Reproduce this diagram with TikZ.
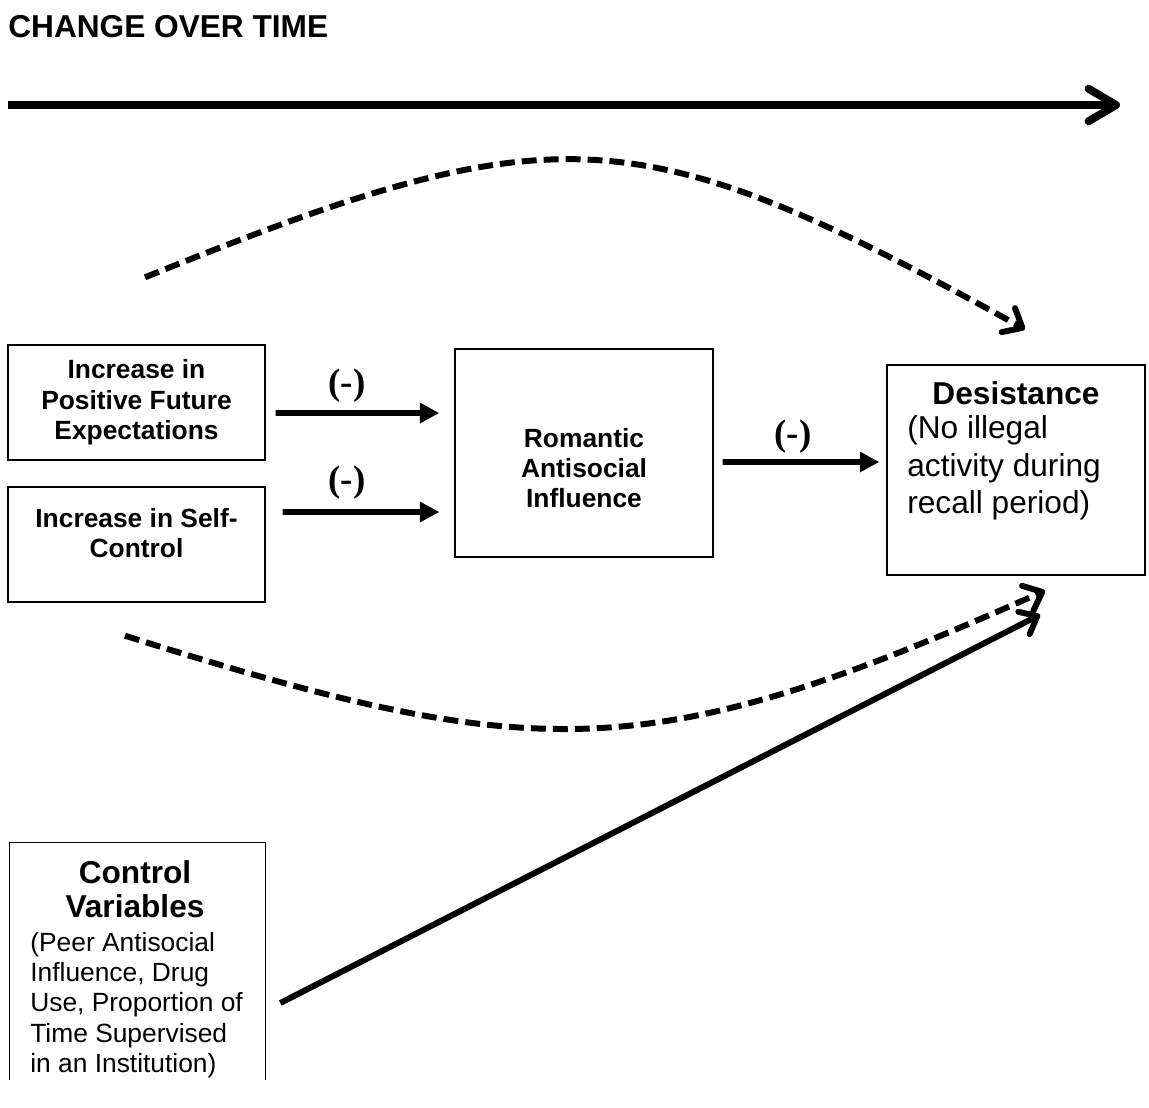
\documentclass[tikz,border=0pt]{standalone}
\usepackage{fontspec}
\setmainfont{Liberation Sans}
\newfontfamily\signfont{Liberation Serif}
\usetikzlibrary{arrows.meta}

\begin{document}
\begin{tikzpicture}[x=0.2mm, y=-0.2mm,
        box/.style={draw, line width=0.8pt, inner sep=0pt},
        boxtext/.style={align=center, inner sep=0pt, font=\fontsize{15}{17.3}\selectfont\bfseries},
        bigtext/.style={align=center, inner sep=0pt, font=\fontsize{18}{19.5}\selectfont\bfseries},
        note/.style={align=left, inner sep=0pt},
        sign/.style={inner sep=0pt, font=\signfont\bfseries\fontsize{21}{22}\selectfont},
        arr/.style={line width=3.2pt, -{Triangle[length=11pt,width=11pt]}},
        curved/.style={line width=3.4pt, dash pattern=on 8.5pt off 4pt,
            -{Straight Barb[length=3.2mm,width=5.5mm,round]}}]
    \useasboundingbox (0,0) rectangle (1149,1107);
    % title and time axis
    \node[anchor=base west, inner sep=0pt, font=\fontsize{18}{20}\selectfont\bfseries] (title) at (8,38) {CHANGE OVER TIME};
    \coordinate (tstart) at (8,105);
    \coordinate (tend) at (1120,105);
    \draw[line width=4.5pt, -{Straight Barb[length=5.5mm,width=6.5mm,round]}] (tstart) -- (tend);
    % boxes
    \node[box, minimum width=51.4mm, minimum height=23mm, boxtext] (A) at (136.5,402.5) {Increase in\\Positive Future\\Expectations};
    \node[box, minimum width=51.4mm, minimum height=23mm] (B) at (136.5,544.5) {};
    \node[boxtext] (Btext) at (136.5,533) {Increase in Self-\\Control};
    \node[box, minimum width=51.6mm, minimum height=41.6mm] (C) at (584,453) {};
    \node[boxtext] (Ctext) at (584,468) {Romantic\\Antisocial\\Influence};
    \node[box, minimum width=51.6mm, minimum height=42mm] (D) at (1016,470) {};
    \node[bigtext] (Dtitle) at (1016,393) {Desistance};
    \node[note, anchor=west, font=\fontsize{18}{21.3}\selectfont] (Dnote) at (907,468) {(No illegal\\activity during\\recall period)};
    \node[inner sep=0pt, minimum width=51mm, minimum height=47.4mm] (E) at (137.5,961.5) {};
    \draw[line width=0.8pt] (E.south west) -- (E.north west) -- (E.north east) -- (E.south east);
    \node[bigtext] (Etitle) at (135,889) {Control\\Variables};
    \node[note, anchor=west, font=\fontsize{15}{17.3}\selectfont] (Enote) at (30,1005) {(Peer Antisocial\\Influence, Drug\\Use, Proportion of\\Time Supervised\\in an Institution)};
    % paths
    \draw[arr] ([xshift=2mm,yshift=-2.1mm]A.east) -- ([xshift=-3mm,yshift=8mm]C.west);
    \draw[arr] ([xshift=3.4mm,yshift=6.5mm]B.east) -- ([xshift=-3mm,yshift=-11.8mm]C.west);
    \draw[arr] ([xshift=1.8mm,yshift=-1.8mm]C.east) -- ([xshift=-1.4mm,yshift=1.6mm]D.west);
    \node[sign] (s1) at (347,386) {(-)};
    \node[sign] (s2) at (347,483) {(-)};
    \node[sign] (s3) at (793,437) {(-)};
    \draw[line width=3.4pt, -{Straight Barb[length=3mm,width=5mm,round]}] ([xshift=3mm,yshift=-8.3mm]E.east) -- ([xshift=4.8mm,yshift=-7.8mm]D.south);
    \draw[curved] ([xshift=1.7mm,yshift=13.4mm]A.north) .. controls (558,111) and (635,114) .. ([xshift=1.8mm,yshift=7mm]D.north);
    \draw[curved] ([xshift=-2.3mm,yshift=-6.6mm]B.south) .. controls (539,766) and (648,767) .. ([xshift=5.8mm,yshift=-3mm]D.south);
\end{tikzpicture}
\end{document}
